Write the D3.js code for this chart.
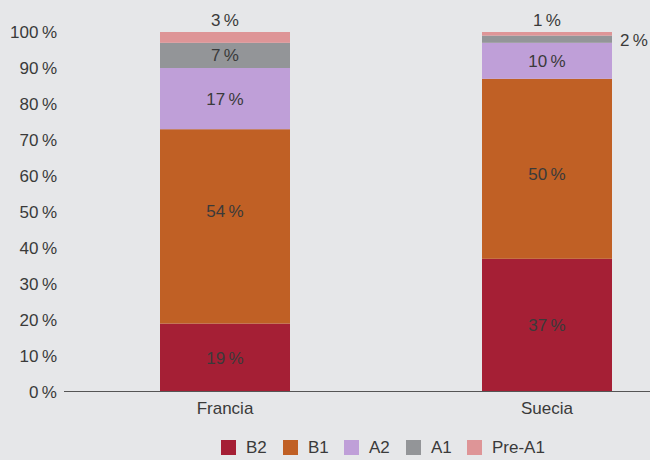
<!DOCTYPE html>
<html>
<head>
<meta charset="utf-8">
<script src="https://cdn.jsdelivr.net/npm/d3@7"></script>
<style>
  body { margin: 0; background: #e6e7e9; }
  svg { display: block; font-family: "Liberation Sans", Arial, sans-serif; }
</style>
</head>
<body>
<svg id="chart"></svg>
<script>
// data
var countries = ["Francia", "Suecia"];
var levels = ["B2", "B1", "A2", "A1", "Pre-A1"];
var francia = [19, 54, 17, 7, 3];
var suecia = [37, 50, 10, 2, 1];
var yTicks = [0, 10, 20, 30, 40, 50, 60, 70, 80, 90, 100];
var colors = ["#a51f35", "#c06025", "#bf9fd8", "#939598", "#de9597"];

function drawChart(width, height) {
    var svg = d3.select("#chart")
                .attr("width", width)
                .attr("height", height);

    var rows = countries.map((c, i) => {
        var vals = i === 0 ? francia : suecia;
        var row = { country: c };
        levels.forEach((l, j) => { row[l] = vals[j]; });
        return row;
    });

    var x = d3.scalePoint()
              .domain(countries)
              .range([225, 547]);
    var barW = 130;

    var y = d3.scaleLinear()
              .domain([0, 100])
              .range([392, 32]);

    var color = d3.scaleOrdinal()
                  .domain(levels)
                  .range(colors);

    var stacked = d3.stack().keys(levels)(rows);

    // y tick labels
    svg.append("g")
       .selectAll("text")
       .data(yTicks)
       .enter()
       .append("text")
         .attr("x", 57)
         .attr("y", d => y(d))
         .attr("dy", "0.35em")
         .attr("text-anchor", "end")
         .attr("font-size", 17)
         .attr("fill", "#3a3a3a")
         .text(d => d + "\u2009%");

    // segments
    var layers = svg.append("g")
                    .selectAll("g")
                    .data(stacked)
                    .enter()
                    .append("g")
                    .attr("fill", d => color(d.key));

    layers.selectAll("rect")
          .data(d => d)
          .enter()
          .append("rect")
            .attr("x", d => x(d.data.country) - barW / 2)
            .attr("y", d => y(d[1]))
            .attr("width", barW)
            .attr("height", d => y(d[0]) - y(d[1]));

    // segment labels (B1 labels sit a bit off-centre in the original)
    var labels = [];
    stacked.forEach(layer => {
        layer.forEach((d, i) => {
            var v = d[1] - d[0];
            var cx = x(d.data.country);
            var cy = y((d[0] + d[1]) / 2);
            if (layer.key === "Pre-A1") {
                cy = y(d[1]) - 12;
            } else if (layer.key === "A1" && v < 4) {
                cx = cx + barW / 2 + 22;
                cy = y(d[1]) + 4;
            } else if (layer.key === "B1") {
                cy += i === 0 ? -15 : 5;
            }
            labels.push({ x: cx, y: cy, t: v + "\u2009%" });
        });
    });

    svg.append("g")
       .selectAll("text")
       .data(labels)
       .enter()
       .append("text")
         .attr("x", d => d.x)
         .attr("y", d => d.y)
         .attr("dy", "0.35em")
         .attr("text-anchor", "middle")
         .attr("font-size", 17)
         .attr("fill", "#3a3a3a")
         .text(d => d.t);

    // x axis line
    svg.append("line")
       .attr("x1", 64)
       .attr("x2", width)
       .attr("y1", 391.5)
       .attr("y2", 391.5)
       .attr("stroke", "#555")
       .attr("stroke-width", 1);

    svg.append("g")
       .selectAll("text")
       .data(countries)
       .enter()
       .append("text")
         .attr("x", d => x(d))
         .attr("y", 408)
         .attr("dy", "0.35em")
         .attr("text-anchor", "middle")
         .attr("font-size", 17)
         .attr("fill", "#3a3a3a")
         .text(d => d);

    // legend
    var legendX = [221, 283, 344, 406, 467];
    var legend = svg.append("g")
                    .selectAll("g")
                    .data(levels)
                    .enter()
                    .append("g")
                    .attr("transform", (d, i) => "translate(" + legendX[i] + ", 447)");

    legend.append("rect")
          .attr("y", -7)
          .attr("width", 15)
          .attr("height", 15)
          .attr("fill", d => color(d));

    legend.append("text")
          .attr("x", 25)
          .attr("dy", "0.35em")
          .attr("font-size", 17)
          .attr("fill", "#3a3a3a")
          .text(d => d);
}

drawChart(650, 460);
</script>
</body>
</html>
